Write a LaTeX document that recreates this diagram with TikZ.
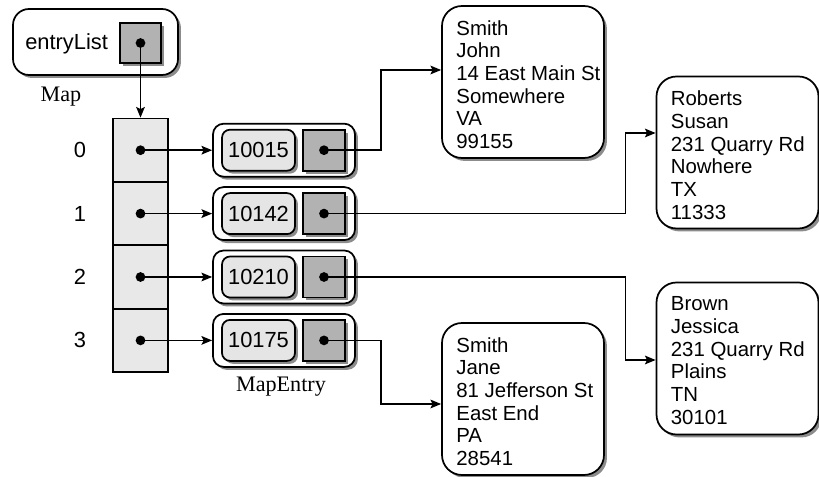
\documentclass[tikz,border=0pt]{standalone}
\usepackage{fontspec}
\setmainfont{Liberation Sans}
\newfontfamily\serifff{Liberation Serif}
\usetikzlibrary{shadows,arrows.meta,calc}
\begin{document}
\begin{tikzpicture}[x=0.75pt,y=-0.75pt,
  shad/.style={drop shadow={shadow xshift=2.2pt,shadow yshift=-2.2pt,fill=black!45,opacity=1}},
  bx/.style={draw,line width=1.3pt,fill=white,inner sep=0pt,shad},
  personbox/.style={bx,minimum width=121.5pt,minimum height=114pt,rounded corners=15pt},
  ptext/.style={anchor=north west,align=left,inner sep=0pt,font=\fontsize{15.3}{17}\selectfont},
  entrybox/.style={bx,minimum width=106.5pt,minimum height=39.75pt,rounded corners=8pt},
  keybox/.style={bx,fill=black!10,minimum width=54.75pt,minimum height=30.75pt,rounded corners=6pt,font=\fontsize{16.4}{18}\selectfont},
  ptr/.style={bx,rounded corners=0pt,fill=black!30,minimum width=31.5pt,minimum height=30.75pt},
  cell/.style={draw,line width=1.3pt,fill=black!9,minimum width=41.25pt,minimum height=47.55pt,inner sep=0pt},
  dot/.style={circle,fill=black,inner sep=0pt,minimum size=7.3pt},
  lbl/.style={font=\fontsize{16.4}{18}\selectfont},
  slbl/.style={font=\serifff\fontsize{16.6}{18}\selectfont},
  arr/.style={line width=1.15pt,-{Stealth[length=8pt,width=6.5pt,inset=1.6pt]}}
]
\useasboundingbox (0,0) rectangle (819,477);

% entryList map
\node[bx,minimum width=123.75pt,minimum height=49.5pt,rounded corners=12pt] (el) at (95.5,42) {};
\node[lbl,anchor=base west,inner sep=0pt] (eltxt) at (25,50) {entryList};
\node[ptr,minimum width=30.75pt,minimum height=30pt] (elp) at (140.5,43) {};
\node[dot] (eld) at (elp.center) {};
\node[slbl] (maplbl) at (61,97) {Map};

% array
\foreach \i/\y in {0/150.2,1/213.6,2/277,3/340.4}{
  \node[cell] (a\i) at (140.5,\y) {};
  \node[dot] (ad\i) at (a\i.center) {};
  \node[lbl] (r\i) at (80,\y) {\i};
}

% map entries
\foreach \i/\y/\k in {0/150.2/10015,1/213.6/10142,2/277/10210,3/340.4/10175}{
  \node[entrybox] (e\i) at (284,\y) {};
  \node[keybox] (k\i) at (258.5,\y) {\k};
  \node[ptr] (p\i) at (324,\y) {};
  \node[dot] (pd\i) at (p\i.center) {};
}
\node[slbl] (melbl) at (281,387) {MapEntry};

% person records
\node[personbox] (john) at (523,82) {};
\node[ptext] (johnt) at ($(john.north west)+(15,15)$) {Smith\\John\\14 East Main St\\Somewhere\\VA\\99155};
\node[personbox] (susan) at (737.5,152.5) {};
\node[ptext] (susant) at ($(susan.north west)+(15,15)$) {Roberts\\Susan\\231 Quarry Rd\\Nowhere\\TX\\11333};
\node[personbox] (jess) at (737.5,358.5) {};
\node[ptext] (jesst) at ($(jess.north west)+(15,15)$) {Brown\\Jessica\\231 Quarry Rd\\Plains\\TN\\30101};
\node[personbox] (jane) at (523,399) {};
\node[ptext] (janet) at ($(jane.north west)+(15,15)$) {Smith\\Jane\\81 Jefferson St\\East End\\PA\\28541};

% connectors
\draw[arr] (eld.center) -- (eld.center |- a0.north);
\foreach \i in {0,1,2,3}{
  \draw[arr] (ad\i.center) -- (e\i.west);
}
\draw[arr] (pd0.center) -| ($(john.west)+(-60,-12)$) |- ($(john.west)+(0,-12)$);
\draw[arr] (pd1.center) -| ($(susan.west)+(-30,-19.5)$) |- ($(susan.west)+(0,-19.5)$);
\draw[arr] (pd2.center) -| ($(jess.west)+(-30,1.5)$) |- ($(jess.west)+(0,1.5)$);
\draw[arr] (pd3.center) -| ($(jane.west)+(-60,5)$) |- ($(jane.west)+(0,5)$);
\end{tikzpicture}
\end{document}
